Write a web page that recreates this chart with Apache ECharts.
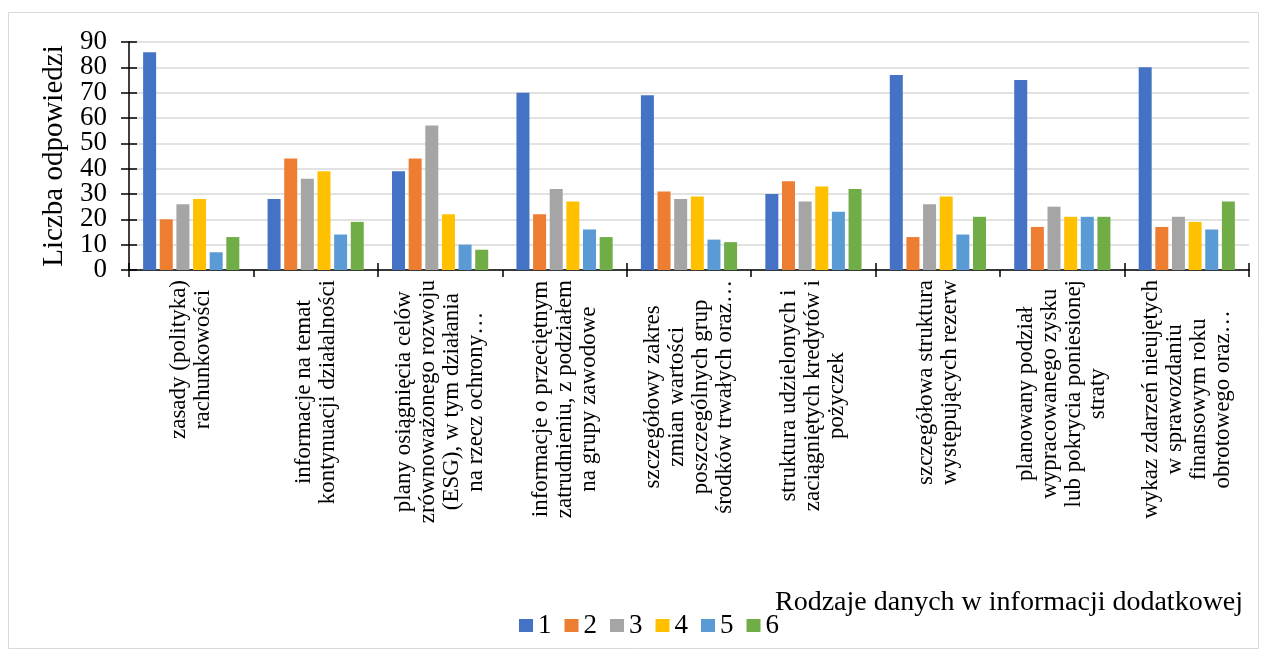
<!DOCTYPE html>
<html>
<head>
<meta charset="utf-8">
<script src="https://cdn.jsdelivr.net/npm/echarts@6/dist/echarts.min.js"></script>
<style>
  html, body { margin: 0; padding: 0; background: #fff; }
  #chart { width: 1269px; height: 655px; }
</style>
</head>
<body>
<div id="chart"></div>
<script>
// Categories of additional information (x axis)
const categories = [
  'zasady (polityka)\nrachunkowości',
  'informacje na temat\nkontynuacji działalności',
  'plany osiągnięcia celów\nzrównoważonego rozwoju\n(ESG), w tym działania\nna rzecz ochrony…',
  'informacje o przeciętnym\nzatrudnieniu, z podziałem\nna grupy zawodowe',
  'szczegółowy zakres\nzmian wartości\nposzczególnych grup\nśrodków trwałych oraz…',
  'struktura udzielonych i\nzaciągniętych kredytów i\npożyczek',
  'szczegółowa struktura\nwystępujących rezerw',
  'planowany podział\nwypracowanego zysku\nlub pokrycia poniesionej\nstraty',
  'wykaz zdarzeń nieujętych\nw sprawozdaniu\nfinansowym roku\nobrotowego oraz…'
];

// Number of answers per rating (1–6)
const seriesNames = ['1', '2', '3', '4', '5', '6'];
const rating1 = [86, 28, 39, 70, 69, 30, 77, 75, 80];
const rating2 = [20, 44, 44, 22, 31, 35, 13, 17, 17];
const rating3 = [26, 36, 57, 32, 28, 27, 26, 25, 21];
const rating4 = [28, 39, 22, 27, 29, 33, 29, 21, 19];
const rating5 = [7, 14, 10, 16, 12, 23, 14, 21, 16];
const rating6 = [13, 19, 8, 13, 11, 32, 21, 21, 27];
const colors = ['#4472C4', '#ED7D31', '#A5A5A5', '#FFC000', '#5B9BD5', '#70AD47'];

const yAxisTitle = 'Liczba odpowiedzi';
const xAxisTitle = 'Rodzaje danych w informacji dodatkowej';

const FONT = '"Liberation Serif", "Times New Roman", serif';
const allValues = [rating1, rating2, rating3, rating4, rating5, rating6];

const chart = echarts.init(document.getElementById('chart'), null, { renderer: 'canvas' });

const series = allValues.map((vals, i) => ({
  name: seriesNames[i],
  type: 'bar',
  data: vals,
  xAxisIndex: 0,
  yAxisIndex: 0,
  barWidth: 13,
  barGap: '28%',
  itemStyle: { color: colors[i] }
}));

// The tick labels are large relative to their spacing, so the even and odd
// values are placed on two overlaid axes to keep every label visible.
const yLabelStyle = {
  fontFamily: FONT, fontSize: 27, color: '#000', margin: 22,
  showMinLabel: true, showMaxLabel: true
};

chart.setOption({
  animation: false,
  backgroundColor: '#fff',
  color: colors,
  textStyle: { fontFamily: FONT, color: '#000' },
  grid: { left: 129, right: 20, top: 42, bottom: 385, containLabel: false },
  title: {
    text: xAxisTitle,
    left: 775,
    top: 589,
    padding: 0,
    textStyle: { fontFamily: FONT, fontSize: 28, fontWeight: 'normal', color: '#000' }
  },
  legend: {
    data: seriesNames,
    left: 514,
    top: 607,
    itemWidth: 14,
    itemHeight: 13,
    itemGap: 13,
    icon: 'rect',
    textStyle: { fontFamily: FONT, fontSize: 27, color: '#000' }
  },
  xAxis: [
    {
      type: 'category',
      data: categories,
      axisLine: { lineStyle: { color: '#000', width: 1.5 } },
      axisTick: { show: true, inside: false, length: 7, lineStyle: { color: '#000', width: 1.5 } },
      axisLabel: {
        interval: 0,
        rotate: 90,
        margin: 10,
        align: 'right',
        formatter: v => v.split('\n').map(l => '{c|' + l + '}').join('\n'),
        rich: {
          c: { align: 'center', fontFamily: FONT, fontSize: 23, lineHeight: 24, color: '#000' }
        }
      },
      splitLine: { show: false }
    },
    {
      // inner half of the crossing ticks
      type: 'category',
      data: categories,
      position: 'bottom',
      axisLine: { show: false },
      axisTick: { show: true, inside: true, length: 7, lineStyle: { color: '#000', width: 1.5 } },
      axisLabel: { show: false },
      splitLine: { show: false }
    }
  ],
  yAxis: [
    {
      type: 'value',
      min: 0,
      max: 90,
      interval: 10,
      name: yAxisTitle,
      nameLocation: 'middle',
      nameGap: 56,
      nameTextStyle: { fontFamily: FONT, fontSize: 29, color: '#000' },
      axisLine: { show: true, lineStyle: { color: '#000', width: 1.5 } },
      axisTick: { show: true, inside: false, length: 8, lineStyle: { color: '#000', width: 1.5 } },
      axisLabel: Object.assign({}, yLabelStyle, {
        formatter: v => (Math.round(v / 10) % 2 === 0 ? String(v) : '')
      }),
      splitLine: { show: true, lineStyle: { color: '#d9d9d9', width: 1.5 } }
    },
    {
      // inner half of the crossing ticks, plus the odd tick labels
      type: 'value',
      min: 0,
      max: 90,
      interval: 10,
      position: 'left',
      axisLine: { show: false },
      axisTick: { show: true, inside: true, length: 8, lineStyle: { color: '#000', width: 1.5 } },
      axisLabel: Object.assign({}, yLabelStyle, {
        inside: false,
        formatter: v => (Math.round(v / 10) % 2 === 1 ? String(v) : '')
      }),
      splitLine: { show: false }
    }
  ],
  graphic: [
    {
      type: 'rect',
      silent: true,
      z: -1,
      shape: { x: 8.5, y: 12.5, width: 1250, height: 636 },
      style: { fill: null, stroke: '#d9d9d9', lineWidth: 1 }
    }
  ],
  series: series
});
</script>
</body>
</html>
